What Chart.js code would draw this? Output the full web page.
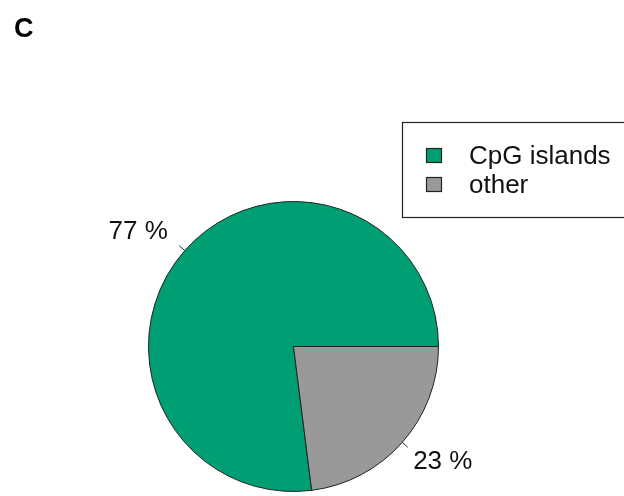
<!DOCTYPE html>
<html>
<head>
<meta charset="utf-8">
<script src="https://cdn.jsdelivr.net/npm/chart.js@4"></script>
<style>
  html, body { margin: 0; padding: 0; background: #fff; }
  #wrap { width: 624px; height: 496px; position: relative; }
</style>
</head>
<body>
<div id="wrap"><canvas id="chartCanvas" width="624" height="496"></canvas></div>
<script>
// datos del gráfico
const categories = ['CpG islands', 'other'];
const values = [77, 23];
const sliceLabels = ['77 %', '23 %'];
const colors = ['#009E73', '#999999'];

const FONT = '"Liberation Sans", Arial, sans-serif';

// etiquetas tipo R con marca corta hacia fuera
const pieLabels = {
  id: 'pieLabels',
  afterDatasetsDraw(chart) {
    const ctx = chart.ctx;
    const arcs = chart.getDatasetMeta(0).data;
    ctx.save();
    ctx.strokeStyle = '#222';
    ctx.lineWidth = 1;
    ctx.fillStyle = '#111';
    ctx.font = '26px ' + FONT;
    arcs.forEach((arc, i) => {
      const p = arc.getProps(['x', 'y', 'startAngle', 'endAngle', 'outerRadius']);
      const mid = (p.startAngle + p.endAngle) / 2;
      const r = p.outerRadius;
      const c = Math.cos(mid), s = Math.sin(mid);
      ctx.beginPath();
      ctx.moveTo(p.x + c * r, p.y + s * r);
      ctx.lineTo(p.x + c * r * 1.05, p.y + s * r * 1.05);
      ctx.stroke();
      const tx = p.x + c * r * 1.1 + (c < 0 ? -6 : 0);
      const ty = p.y + s * r * 1.2;
      ctx.textAlign = c < 0 ? 'right' : 'left';
      ctx.textBaseline = 'middle';
      ctx.fillText(sliceLabels[i], tx, ty);
    });
    ctx.restore();
  }
};

// leyenda con recuadro y letra del panel
const boxLegend = {
  id: 'boxLegend',
  afterDraw(chart) {
    const ctx = chart.ctx;
    ctx.save();
    ctx.fillStyle = '#000';
    ctx.font = 'bold 27px ' + FONT;
    ctx.textAlign = 'left';
    ctx.textBaseline = 'alphabetic';
    ctx.fillText('C', 14, 37);

    ctx.strokeStyle = '#222';
    ctx.lineWidth = 1.2;
    ctx.strokeRect(402.5, 122.5, 240, 95);

    ctx.font = '26px ' + FONT;
    ctx.textBaseline = 'middle';
    categories.forEach((cat, i) => {
      const y = 148 + i * 29;
      ctx.fillStyle = colors[i];
      ctx.fillRect(426, y, 16, 15);
      ctx.strokeStyle = '#222';
      ctx.lineWidth = 1.2;
      ctx.strokeRect(426.5, y + 0.5, 15, 14);
      ctx.fillStyle = '#111';
      ctx.fillText(cat, 469, y + 8.5);
    });
    ctx.restore();
  }
};

document.addEventListener('DOMContentLoaded', () => {
  const ctx = document.getElementById('chartCanvas').getContext('2d');
  const otherShare = values[1] / values.reduce((a, b) => a + b, 0);
  new Chart(ctx, {
    type: 'pie',
    data: {
      labels: categories,
      datasets: [{
        data: values,
        backgroundColor: colors,
        borderColor: '#222',
        borderWidth: 1
      }]
    },
    options: {
      responsive: false,
      animation: false,
      rotation: 90 + otherShare * 360,
      layout: { padding: { left: 148, right: 185, top: 201, bottom: 4 } },
      plugins: {
        legend: { display: false },
        tooltip: { enabled: false }
      }
    },
    plugins: [pieLabels, boxLegend]
  });
});
</script>
</body>
</html>
